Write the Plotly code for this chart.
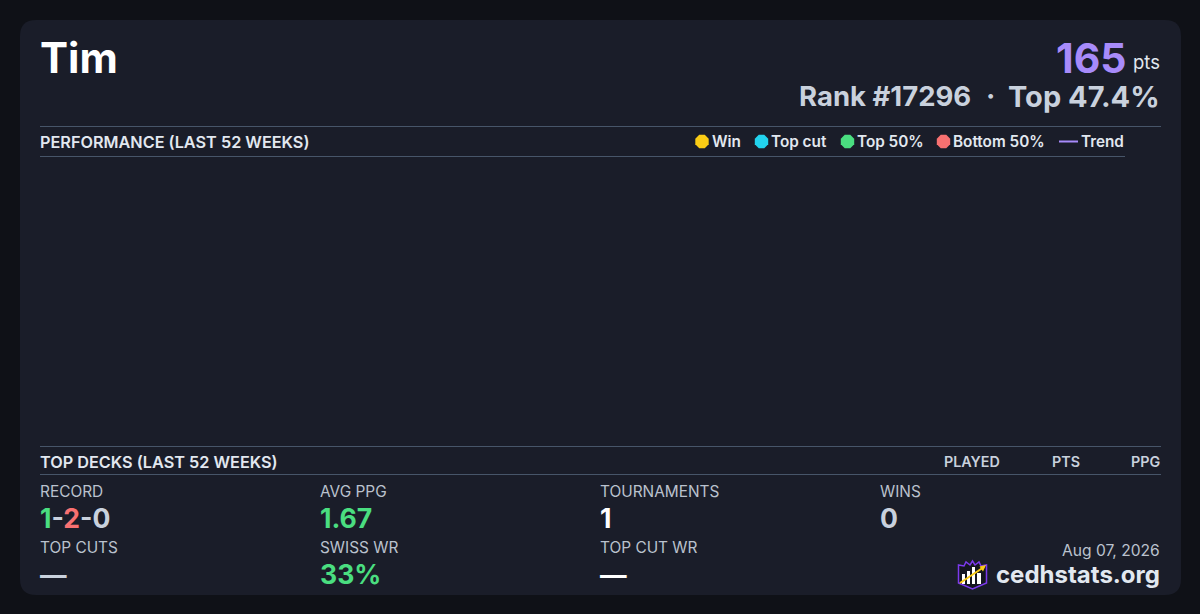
"""
Player stats card: header, empty performance panel, top decks header and stat grid.
"""

import plotly.graph_objects as go

W, H = 1200, 614

PAGE_BG = "#0f1117"
CARD_BG = "#1a1d29"
RULE = "#475569"
WHITE = "#ffffff"
LIGHT = "#e2e8f0"
SOFT = "#c9d1dd"
MUTED = "#bac2ce"
PURPLE = "#a78bfa"
GREEN = "#4ade80"
RED = "#f87171"
YELLOW = "#facc15"

FONT = "Inter"

# legend
legend_names = ["Win", "Top cut", "Top 50%", "Bottom 50%"]
legend_colors = [YELLOW, "#22d3ee", GREEN, RED]
legend_x = [702, 761.5, 847.5, 943.5]
legend_text_x = [712, 771, 857, 953]
trend_label = "Trend"

# deck table columns
deck_cols = ["PLAYED", "PTS", "PPG"]
deck_cols_right = [1000, 1080, 1160]

# stat grid
stat_labels = ["RECORD", "AVG PPG", "TOURNAMENTS", "WINS", "TOP CUTS", "SWISS WR", "TOP CUT WR"]
stat_values = [
    f'<span style="color:{GREEN}">1</span>-<span style="color:{RED}">2</span>-0',
    "1.67", "1", "0", "—", "33%", "—",
]
stat_colors = [SOFT, GREEN, WHITE, SOFT, SOFT, GREEN, WHITE]
stat_x = [40, 320, 600, 880, 40, 320, 600]
stat_label_y = [491.5, 491.5, 491.5, 491.5, 547.5, 547.5, 547.5]
stat_value_y = [518, 518, 518, 518, 574, 574, 574]

# logo bars
logo_bar_x = [962, 967, 972, 977]
logo_bar_w = [3, 3, 3, 4]
logo_bar_top = [574, 571, 567, 573]

annotations = []
shapes = []


def text(x, y, s, size, color, weight=400, anchor="left"):
    annotations.append(dict(
        x=x, y=y, text=s, showarrow=False, xref="x", yref="y",
        xanchor=anchor, yanchor="middle", borderpad=0, borderwidth=0,
        font=dict(family=FONT, size=size, color=color, weight=weight),
    ))


def rule(x0, x1, y):
    shapes.append(dict(type="line", x0=x0, x1=x1, y0=y, y1=y, xref="x", yref="y",
                       line=dict(color=RULE, width=1), layer="below"))


def rounded_rect(x0, y0, x1, y1, r):
    return (f"M{x0+r},{y0} L{x1-r},{y0} Q{x1},{y0} {x1},{y0+r} L{x1},{y1-r} "
            f"Q{x1},{y1} {x1-r},{y1} L{x0+r},{y1} Q{x0},{y1} {x0},{y1-r} "
            f"L{x0},{y0+r} Q{x0},{y0} {x0+r},{y0} Z")


# card
shapes.append(dict(type="path", path=rounded_rect(20, 20, 1181, 595, 16), xref="x", yref="y",
                   fillcolor=CARD_BG, line=dict(width=0), layer="below"))

# header
text(40, 57, "Tim", 42, WHITE, 700)
text(1127, 57.5, "165", 41, PURPLE, 700, "right")
text(1160, 62, "pts", 18.5, LIGHT, 400, "right")
text(971, 96, "Rank #17296", 27.5, SOFT, 700, "right")
text(990, 96, "·", 28, SOFT, 700, "center")
text(1160, 96, "Top 47.4%", 29, SOFT, 700, "right")

# performance panel header
rule(40, 1161, 126.5)
rule(40, 1125, 156.5)
text(40, 142, "PERFORMANCE (LAST 52 WEEKS)", 16.25, LIGHT, 600)
for name, tx in zip(legend_names, legend_text_x):
    text(tx, 141.5, name, 15.3, LIGHT, 600)
text(1081, 141.5, trend_label, 15.3, LIGHT, 600)
shapes.append(dict(type="line", x0=1059, x1=1078, y0=141.5, y1=141.5, xref="x", yref="y",
                   line=dict(color=PURPLE, width=2)))

# top decks header
rule(40, 1161, 446.5)
rule(40, 1161, 474.5)
text(40, 462, "TOP DECKS (LAST 52 WEEKS)", 16.25, LIGHT, 600)
for name, right in zip(deck_cols, deck_cols_right):
    text(right, 461.5, name, 14.3, SOFT, 600, "right")

# stats
for x, ly, vy, label, value, color in zip(stat_x, stat_label_y, stat_value_y,
                                          stat_labels, stat_values, stat_colors):
    text(x, ly, label, 15.4, MUTED)
    text(x, vy, value, 26.6, color, 700)

# footer
text(1160, 550, "Aug 07, 2026", 15.6, MUTED, 400, "right")
text(1160, 574, "cedhstats.org", 24, LIGHT, 700, "right")

# logo
shapes.append(dict(type="path", xref="x", yref="y", line=dict(color="#7c3aed", width=1.5),
                   fillcolor="#14161f",
                   path="M958.5,565 L964,566 L966,562 L970,565 L972.5,561 L975,565 L979,562 "
                        "L981,566 L986.5,565 L986.5,583 L972.5,589 L958.5,583 Z"))
for bx, bw, top in zip(logo_bar_x, logo_bar_w, logo_bar_top):
    shapes.append(dict(type="rect", xref="x", yref="y", x0=bx, x1=bx + bw, y0=top, y1=584,
                       fillcolor=WHITE, line=dict(width=0)))
shapes.append(dict(type="line", xref="x", yref="y", x0=960, y0=583, x1=984, y1=567,
                   line=dict(color=YELLOW, width=2)))
shapes.append(dict(type="path", xref="x", yref="y", fillcolor=YELLOW, line=dict(width=0),
                   path="M986,565 L979.5,566.5 L983,571.5 Z"))

fig = go.Figure()
fig.add_trace(go.Scatter(
    x=legend_x, y=[141.5] * len(legend_x), mode="markers", showlegend=False, hoverinfo="skip",
    marker=dict(size=14.5, color=legend_colors, symbol="octagon", line=dict(width=0)),
))

fig.update_layout(
    width=W, height=H,
    margin=dict(l=0, r=0, t=0, b=0, pad=0),
    paper_bgcolor=PAGE_BG, plot_bgcolor=PAGE_BG,
    xaxis=dict(range=[0, W], visible=False, fixedrange=True),
    yaxis=dict(range=[H, 0], visible=False, fixedrange=True),
    shapes=shapes, annotations=annotations, showlegend=False,
)

fig.write_html(
    "out.html",
    config={"displayModeBar": False},
    post_script=f"document.body.style.margin='0';document.body.style.background='{PAGE_BG}';",
)
